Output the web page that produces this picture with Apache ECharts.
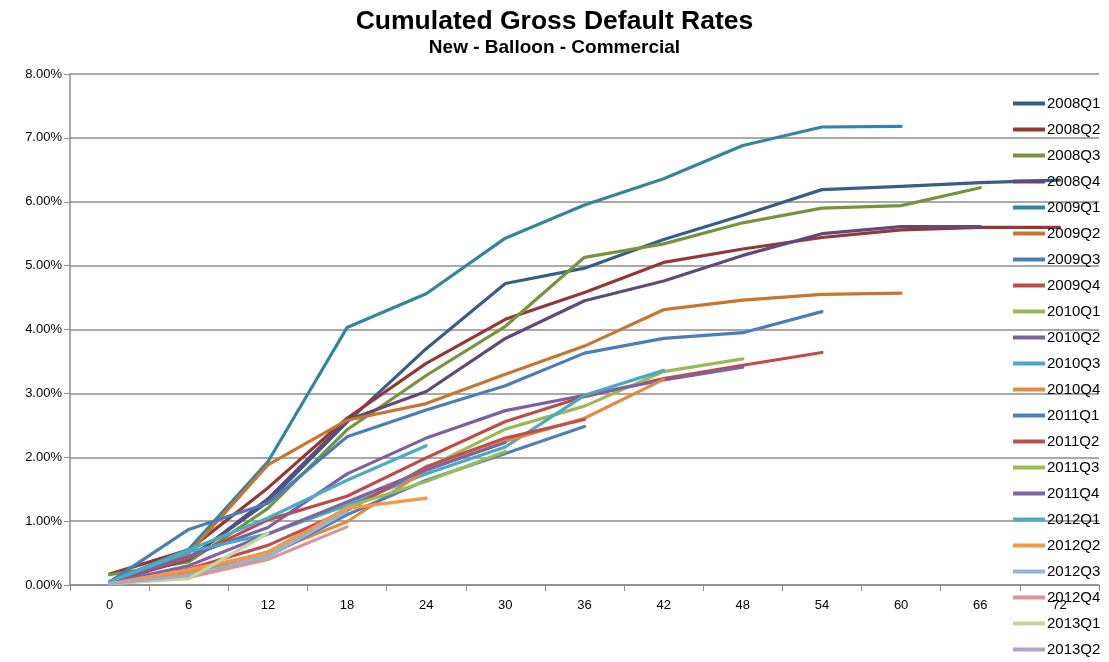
<!DOCTYPE html>
<html>
<head>
<meta charset="utf-8">
<script src="https://cdn.jsdelivr.net/npm/echarts@6/dist/echarts.min.js"></script>
<style>
  html, body { margin: 0; padding: 0; background: #fff; }
  #chart { width: 1109px; height: 662px; }
</style>
</head>
<body>
<div id="chart"></div>
<script>
// Months since origination (x categories)
const months = ['0', '6', '12', '18', '24', '30', '36', '42', '48', '54', '60', '66', '72'];

// Cumulated gross default rate per vintage, in percent
const v2008Q1 = [0.03, 0.42, 1.30, 2.55, 3.70, 4.72, 4.96, 5.41, 5.79, 6.19, 6.24, 6.30, 6.34];
const v2008Q2 = [0.17, 0.55, 1.52, 2.61, 3.47, 4.16, 4.58, 5.05, 5.26, 5.44, 5.56, 5.60, 5.60];
const v2008Q3 = [0.16, 0.36, 1.20, 2.43, 3.28, 4.05, 5.13, 5.34, 5.67, 5.90, 5.94, 6.22];
const v2008Q4 = [0.05, 0.40, 1.35, 2.58, 3.03, 3.86, 4.45, 4.76, 5.16, 5.50, 5.61, 5.61];
const v2009Q1 = [0.05, 0.56, 1.93, 4.03, 4.56, 5.43, 5.95, 6.36, 6.88, 7.17, 7.18];
const v2009Q2 = [0.05, 0.50, 1.88, 2.58, 2.84, 3.30, 3.74, 4.31, 4.46, 4.55, 4.57];
const v2009Q3 = [0.05, 0.87, 1.28, 2.32, 2.74, 3.12, 3.63, 3.86, 3.95, 4.28];
const v2009Q4 = [0.05, 0.42, 1.02, 1.39, 1.99, 2.56, 2.95, 3.23, 3.44, 3.64];
const v2010Q1 = [0.05, 0.18, 0.52, 1.20, 1.83, 2.44, 2.80, 3.34, 3.54];
const v2010Q2 = [0.05, 0.45, 0.90, 1.74, 2.30, 2.73, 2.97, 3.21, 3.41];
const v2010Q3 = [0.05, 0.52, 0.80, 1.25, 1.74, 2.16, 2.97, 3.36];
const v2010Q4 = [0.03, 0.22, 0.50, 0.99, 1.80, 2.25, 2.61, 3.22];
const v2011Q1 = [0.02, 0.15, 0.45, 1.10, 1.64, 2.06, 2.48];
const v2011Q2 = [0.02, 0.25, 0.62, 1.17, 1.85, 2.30, 2.59];
const v2011Q3 = [0.02, 0.12, 0.45, 1.22, 1.62, 2.09];
const v2011Q4 = [0.03, 0.30, 0.80, 1.30, 1.80, 2.23];
const v2012Q1 = [0.05, 0.55, 1.05, 1.64, 2.18];
const v2012Q2 = [0.02, 0.24, 0.50, 1.20, 1.36];
const v2012Q3 = [0.02, 0.15, 0.45, 1.15];
const v2012Q4 = [0.02, 0.12, 0.40, 0.91];
const v2013Q1 = [0.02, 0.10, 0.81];
const v2013Q2 = [0.02, 0.15];

const vintageNames = ['2008Q1', '2008Q2', '2008Q3', '2008Q4', '2009Q1', '2009Q2', '2009Q3', '2009Q4',
  '2010Q1', '2010Q2', '2010Q3', '2010Q4', '2011Q1', '2011Q2', '2011Q3', '2011Q4',
  '2012Q1', '2012Q2', '2012Q3', '2012Q4', '2013Q1', '2013Q2'];
const vintageValues = [v2008Q1, v2008Q2, v2008Q3, v2008Q4, v2009Q1, v2009Q2, v2009Q3, v2009Q4,
  v2010Q1, v2010Q2, v2010Q3, v2010Q4, v2011Q1, v2011Q2, v2011Q3, v2011Q4,
  v2012Q1, v2012Q2, v2012Q3, v2012Q4, v2013Q1, v2013Q2];
const vintageColors = ['#385D8A', '#953735', '#77933C', '#604A7B', '#31859C', '#C6762F',
  '#4A7EBB', '#BE4B48', '#98B954', '#7D60A0', '#46AAC5', '#E38A3E',
  '#4F81BD', '#C0504D', '#9BBB59', '#8064A2', '#4BACC6', '#F79646',
  '#95B3D7', '#D99694', '#C3D69B', '#B3A2C7'];

const series = vintageNames.map((name, i) => ({
  name: name,
  type: 'line',
  data: vintageValues[i],
  symbol: 'none',
  smooth: false,
  lineStyle: { width: 3.2, color: vintageColors[i], cap: 'round', join: 'round' },
  itemStyle: { color: vintageColors[i] },
  emphasis: { disabled: true }
}));

const chart = echarts.init(document.getElementById('chart'), null, { renderer: 'canvas' });
chart.setOption({
  animation: false,
  backgroundColor: '#ffffff',
  title: {
    text: 'Cumulated Gross Default Rates',
    subtext: 'New - Balloon - Commercial',
    left: 'center',
    top: 3,
    itemGap: 3,
    textStyle: { fontFamily: 'Liberation Sans, Arial', fontSize: 26.5, fontWeight: 'bold', color: '#000' },
    subtextStyle: { fontFamily: 'Liberation Sans, Arial', fontSize: 19, fontWeight: 'bold', color: '#000' }
  },
  legend: {
    orient: 'vertical',
    left: 1013,
    top: 96,
    padding: 0,
    itemWidth: 32,
    itemHeight: 14,
    itemGap: 11,
    icon: 'path://M0,5 L32,5 L32,9 L0,9 Z',
    textStyle: { fontFamily: 'Liberation Sans, Arial', fontSize: 15, color: '#000', padding: [0, 0, 0, -3] },
    data: vintageNames
  },
  grid: { left: 70, right: 10, top: 74, bottom: 77, containLabel: false },
  xAxis: {
    type: 'category',
    data: months,
    boundaryGap: true,
    axisLine: { lineStyle: { color: '#8c8c8c', width: 1.5 } },
    axisTick: { show: true, length: 6, alignWithLabel: false, lineStyle: { color: '#8c8c8c' } },
    axisLabel: { fontFamily: 'Liberation Sans, Arial', fontSize: 13, color: '#000', margin: 14 },
    splitLine: { show: false }
  },
  yAxis: {
    type: 'value',
    min: 0,
    max: 8,
    interval: 1,
    axisLine: { show: true, lineStyle: { color: '#8c8c8c', width: 1.5 } },
    axisTick: { show: true, length: 6, lineStyle: { color: '#8c8c8c' } },
    axisLabel: {
      fontFamily: 'Liberation Sans, Arial', fontSize: 13, color: '#000', margin: 8,
      formatter: v => v.toFixed(2) + '%'
    },
    splitLine: { show: true, lineStyle: { color: '#8c8c8c', width: 1.5 } }
  },
  series: series
});
</script>
</body>
</html>
